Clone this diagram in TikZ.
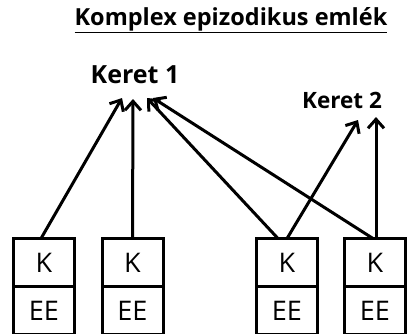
\documentclass[tikz,border=0pt]{standalone}
\usepackage{fontspec}
\setmainfont{Open Sans}
\usetikzlibrary{arrows.meta}
\begin{document}
\begin{tikzpicture}[x=1pt,y=-1pt,
  cell/.style={draw,line width=3pt,minimum width=61pt,minimum height=48pt,inner sep=0pt,outer sep=0pt,font=\fontsize{27}{27}\selectfont},
  arr/.style={line width=3pt,-{Straight Barb[length=9pt,width=16pt,line width=3pt]}}]
\useasboundingbox (0,0) rectangle (410,333);
\clip (0,0) rectangle (410,333);
\node[font=\bfseries\fontsize{23.5}{23.5}\selectfont,inner sep=0pt] (title) at (231,20) {\underline{Komplex epizodikus emlék}};
\node[font=\bfseries\fontsize{25}{25}\selectfont,inner sep=0pt] (keret1) at (135,75) {Keret 1};
\node[font=\bfseries\fontsize{22.5}{22.5}\selectfont,inner sep=0pt] (keret2) at (342,100) {Keret 2};
\foreach \i/\x in {1/44,2/132.5,3/287,4/375}{
  \node[cell] (k\i) at (\x,262.5) {K};
  \node[cell,anchor=north] (e\i) at (k\i.south) {EE};
}
\coordinate (t1) at (122,98);
\coordinate (t2) at (133,99);
\coordinate (t3) at (147,98);
\coordinate (t4) at (153,98);
\coordinate (u1) at (358,120);
\coordinate (u2) at (376,117);
\draw[arr] ([xshift=-3pt]k1.north) -- (t1);
\draw[arr] (k2.north) -- (t2);
\draw[arr] ([xshift=-9pt]k3.north) -- (t3);
\draw[arr] ([xshift=-2pt]k4.north) -- (t4);
\draw[arr] (k3.north) -- (u1);
\draw[arr] ([xshift=1pt]k4.north) -- (u2);
\end{tikzpicture}
\end{document}
